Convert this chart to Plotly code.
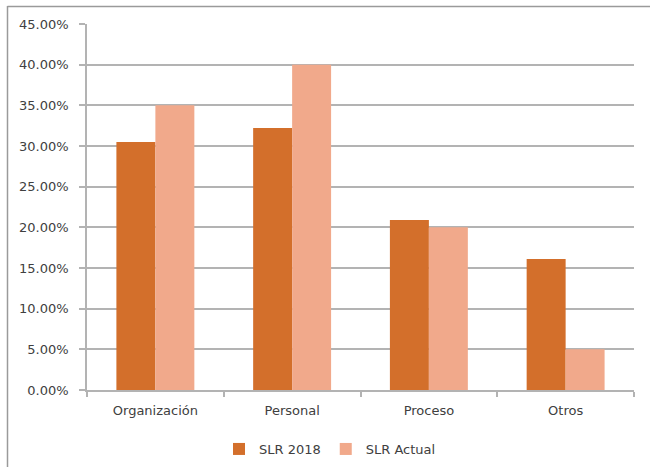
import plotly.graph_objects as go

categories = ["Organización", "Personal", "Proceso", "Otros"]
slr_2018 = [0.305, 0.322, 0.209, 0.161]
slr_actual = [0.35, 0.40, 0.20, 0.05]
series_names = ["SLR 2018", "SLR Actual"]
y_ticks = [i * 0.05 for i in range(10)]

W, H = 650, 467
L, R, T, B = 87, 16, 24, 77
pw, ph = W - L - R, H - T - B

font = dict(family="DejaVu Sans", size=13, color="#404040")
grid = "#b3b3b3"

fig = go.Figure()
fig.add_trace(go.Bar(x=categories, y=slr_2018, name=series_names[0],
                     marker=dict(color="#D36F2B", line=dict(width=0))))
fig.add_trace(go.Bar(x=categories, y=slr_actual, name=series_names[1],
                     marker=dict(color="#F1A98B", line=dict(width=0))))

def px_x(p):
    return (p - L) / pw

def px_y(p):
    return 1 - (p - T) / ph

fig.update_layout(
    width=W, height=H,
    margin=dict(l=L, r=R, t=T, b=B, pad=0, autoexpand=False),
    paper_bgcolor="white", plot_bgcolor="white",
    font=font,
    barmode="group", bargap=0.43, bargroupgap=0,
    showlegend=True,
    legend=dict(orientation="h", x=px_x(330), xanchor="center",
                y=px_y(449), yanchor="middle", font=font,
                itemwidth=30, tracegroupgap=0, bgcolor="rgba(0,0,0,0)"),
    xaxis=dict(showgrid=False, showline=True, linecolor=grid, linewidth=1.5,
               ticks="outside", tickson="boundaries", ticklen=5,
               tickcolor=grid, tickwidth=1.5, ticklabelstandoff=8,
               tickfont=font),
    yaxis=dict(range=[0, 0.45], tickvals=y_ticks, tickformat=".2%",
               showgrid=True, gridcolor=grid, gridwidth=1.5,
               showline=True, linecolor=grid, linewidth=1.5,
               ticks="outside", ticklen=6, tickcolor=grid, tickwidth=1.5,
               ticklabelstandoff=8, zeroline=False, tickfont=font),
    shapes=[
        dict(type="line", xref="paper", yref="paper",
             x0=px_x(7.5), x1=px_x(7.5), y0=px_y(6), y1=px_y(470),
             line=dict(color="#9a9a9a", width=1.5)),
        dict(type="line", xref="paper", yref="paper",
             x0=px_x(7.5), x1=px_x(652), y0=px_y(6.5), y1=px_y(6.5),
             line=dict(color="#9a9a9a", width=1.5)),
    ],
)

fig.write_html("out.html", config={"displayModeBar": False},
               post_script="document.body.style.margin='0';document.body.style.overflow='hidden';")
